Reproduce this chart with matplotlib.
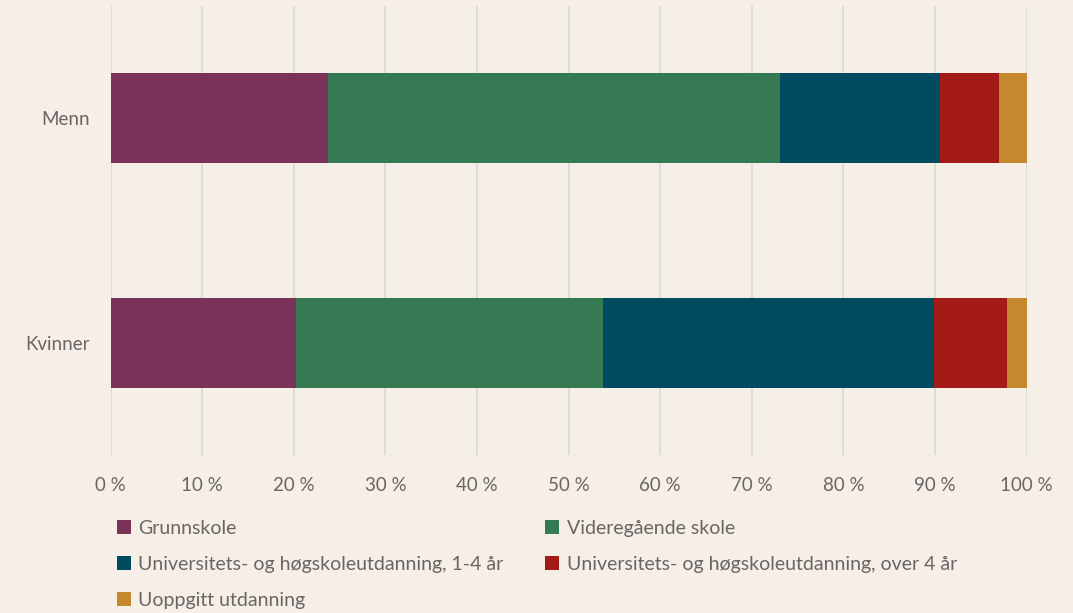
import matplotlib.pyplot as plt
import numpy as np

# Data (andel i prosent)
groups = ['Menn', 'Kvinner']
categories = [
    'Grunnskole',
    'Videregående skole',
    'Universitets- og høgskoleutdanning, 1-4 år',
    'Universitets- og høgskoleutdanning, over 4 år',
    'Uoppgitt utdanning',
]
menn = [23.7, 49.4, 17.4, 6.5, 3.0]
kvinner = [20.3, 33.5, 36.1, 8.0, 2.1]
colors = ['#7b3259', '#367a53', '#004b5f', '#a31a17', '#c5882d']
x_ticks = [0, 10, 20, 30, 40, 50, 60, 70, 80, 90, 100]

bg = '#f5efe8'
text_color = '#6b6464'
plt.rcParams['font.family'] = ['Lato', 'DejaVu Sans']

values = np.array([menn, kvinner])
ypos = np.arange(len(groups))

fig = plt.figure(figsize=(10.73, 6.13), dpi=100, facecolor=bg)
ax = fig.add_axes([0.103, 0.258, 0.8537, 0.732], facecolor=bg)

left = np.zeros(len(groups))
handles = []
for i, cat in enumerate(categories):
    b = ax.barh(ypos, values[:, i], left=left, height=0.4, color=colors[i],
                label=cat, zorder=3)
    handles.append(b)
    left += values[:, i]

ax.set_xlim(0, 100)
ax.set_ylim(1.5, -0.5)
ax.set_yticks(ypos)
ax.set_yticklabels(groups)
ax.set_xticks(x_ticks)
ax.set_xticklabels([f'{t} %' for t in x_ticks])
ax.tick_params(length=0, labelsize=13.5, colors=text_color)
ax.tick_params(axis='x', pad=16)
ax.tick_params(axis='y', pad=15)
ax.grid(axis='x', color='#dcdad6', linewidth=1.3, zorder=0)
for s in ax.spines.values():
    s.set_visible(False)

# legenden fylles rad for rad som i originalen
order = [0, 2, 4, 1, 3]
leg = fig.legend([handles[i] for i in order], [categories[i] for i in order],
                 ncol=2, loc='upper left', bbox_to_anchor=(0.109, 0.152),
                 frameon=False, fontsize=14, handlelength=0.7, handleheight=0.7,
                 handletextpad=0.4, columnspacing=2.15, labelspacing=0.98,
                 borderaxespad=0, borderpad=0)
for t in leg.get_texts():
    t.set_color(text_color)

fig.savefig('out.png', dpi=100, facecolor=bg)
